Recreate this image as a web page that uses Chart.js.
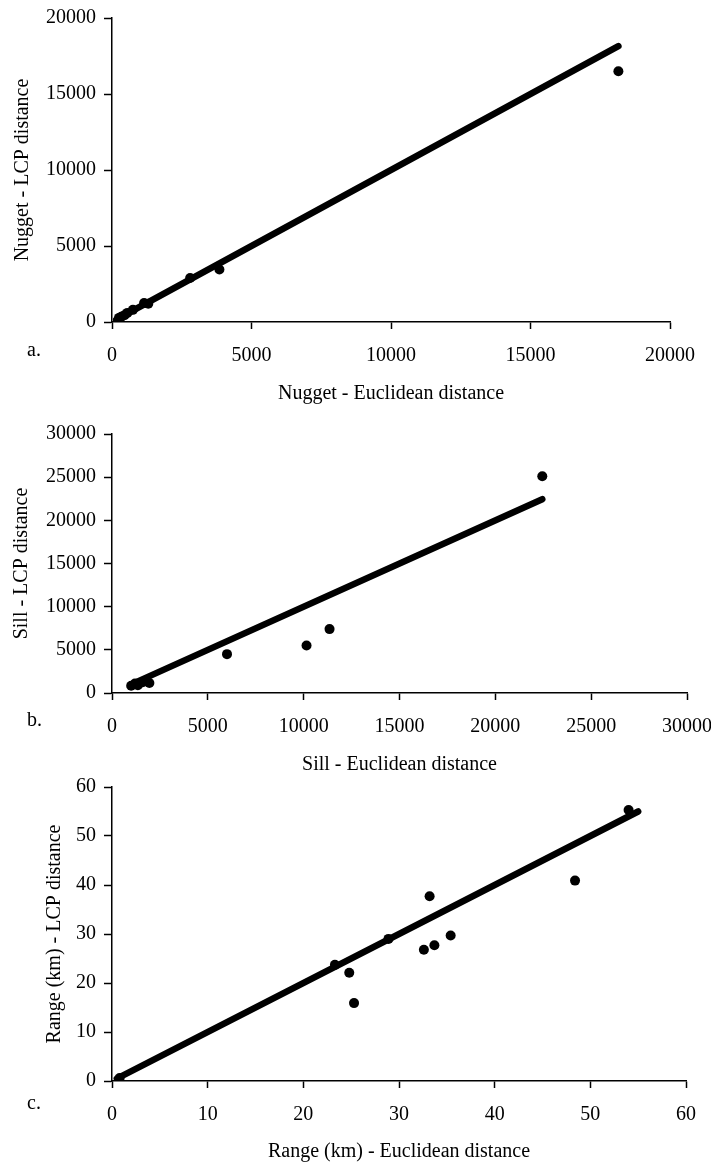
<!DOCTYPE html>
<html><head><meta charset="utf-8">
<script src="https://cdn.jsdelivr.net/npm/chart.js@4.4.1/dist/chart.umd.min.js"></script>
<style>
html,body{margin:0;padding:0;background:#fff;}
body{width:711px;height:1164px;position:relative;overflow:hidden;font-family:"Liberation Serif","Times New Roman",serif;}
canvas{position:absolute;left:0;}
.lab{position:absolute;font-size:20px;line-height:20px;color:#000;}
</style></head><body>
<canvas id="ca" width="711" height="410" style="top:0px"></canvas>
<canvas id="cb" width="711" height="370" style="top:410px"></canvas>
<canvas id="cc" width="711" height="399" style="top:765px"></canvas>
<div class="lab" style="left:27px;top:339px">a.</div>
<div class="lab" style="left:27px;top:709px">b.</div>
<div class="lab" style="left:27px;top:1092px">c.</div>
<script>
// Panel a: Nugget
const nuggetEuclid = [250, 330, 450, 550, 750, 1150, 1300, 2800, 3850, 18150];
const nuggetLCP    = [270, 350, 450, 600, 800, 1250, 1200, 2900, 3450, 16500];
const nuggetLineX  = [150, 18150];
const nuggetLineY  = [150, 18150];
const nuggetTicks  = [0, 5000, 10000, 15000, 20000];

// Panel b: Sill
const sillEuclid = [1000, 1200, 1350, 1600, 1950, 6000, 10150, 11350, 22450];
const sillLCP    = [850, 1100, 900, 1250, 1150, 4500, 5500, 7400, 25100];
const sillLineX  = [1000, 22450];
const sillLineY  = [1000, 22450];
const sillTicks  = [0, 5000, 10000, 15000, 20000, 25000, 30000];

// Panel c: Range (km)
const rangeEuclid = [0.8, 23.3, 24.8, 25.3, 28.9, 32.6, 33.2, 33.7, 35.4, 48.4, 54.0];
const rangeLCP    = [0.6, 23.7, 22.1, 15.9, 29.0, 26.8, 37.7, 27.7, 29.7, 40.9, 55.3];
const rangeLineX  = [0.5, 55];
const rangeLineY  = [0.5, 55];
const rangeTicks  = [0, 10, 20, 30, 40, 50, 60];

Chart.defaults.font.family = '"Liberation Serif","Times New Roman",serif';
Chart.defaults.font.size = 20;
Chart.defaults.color = '#000';

function pts(xs, ys){ return xs.map((x,i)=>({x:x, y:ys[i]})); }

function makeChart(id, xs, ys, lx, ly, ticks, xTitle, yTitle, box){
  const tmax = ticks[ticks.length-1], step = ticks[1]-ticks[0];
  const ctx = document.getElementById(id);
  return new Chart(ctx, {
    type: 'scatter',
    data: { datasets: [
      { data: pts(lx, ly), showLine: true, borderColor: '#000', borderWidth: 6.5,
        pointRadius: 0, borderCapStyle: 'round', order: 2 },
      { data: pts(xs, ys), pointRadius: 5, pointBackgroundColor: '#000',
        pointBorderWidth: 0, order: 1 }
    ]},
    options: {
      responsive: false, animation: false, devicePixelRatio: 1,
      layout: { padding: { top: box.top, right: 711 - box.right, left: 0, bottom: 0 } },
      plugins: { legend: { display: false }, tooltip: { enabled: false } },
      scales: {
        x: {
          type: 'linear', position: 'bottom', min: 0, max: tmax,
          ticks: { stepSize: step, padding: 15, color: '#000', maxRotation: 0, autoSkip: false,
                   callback: v => String(v) },
          grid: { drawOnChartArea: false, drawTicks: true, tickLength: 7, tickColor: '#000', tickWidth: 1.5 },
          border: { display: true, color: '#000', width: 1.5 },
          title: { display: true, text: xTitle, color: '#000', padding: { top: 0, bottom: box.xtp } },
          afterFit: s => { s.height = box.h - box.bottom; s.paddingLeft = 0; s.paddingRight = 0; }
        },
        y: {
          type: 'linear', position: 'left', min: 0, max: tmax,
          ticks: { stepSize: step, padding: 8, color: '#000', autoSkip: false,
                   callback: v => String(v) },
          grid: { drawOnChartArea: false, drawTicks: true, tickLength: 8, tickColor: '#000', tickWidth: 1.5 },
          border: { display: true, color: '#000', width: 1.5 },
          title: { display: true, text: yTitle, color: '#000', padding: { top: box.ytp, bottom: 0 } },
          afterFit: s => { s.width = box.left; s.paddingTop = 0; s.paddingBottom = 0; }
        }
      }
    }
  });
}

makeChart('ca', nuggetEuclid, nuggetLCP, nuggetLineX, nuggetLineY, nuggetTicks,
  'Nugget - Euclidean distance', 'Nugget - LCP distance',
  { left: 112, right: 670, top: 18, bottom: 322, h: 410, xtp: 4, ytp: 11 });
makeChart('cb', sillEuclid, sillLCP, sillLineX, sillLineY, sillTicks,
  'Sill - Euclidean distance', 'Sill - LCP distance',
  { left: 112, right: 687, top: 24, bottom: 283, h: 370, xtp: 3, ytp: 10 });
makeChart('cc', rangeEuclid, rangeLCP, rangeLineX, rangeLineY, rangeTicks,
  'Range (km) - Euclidean distance', 'Range (km) - LCP distance',
  { left: 112, right: 686, top: 22, bottom: 316, h: 399, xtp: 0, ytp: 43 });
</script>
</body></html>
